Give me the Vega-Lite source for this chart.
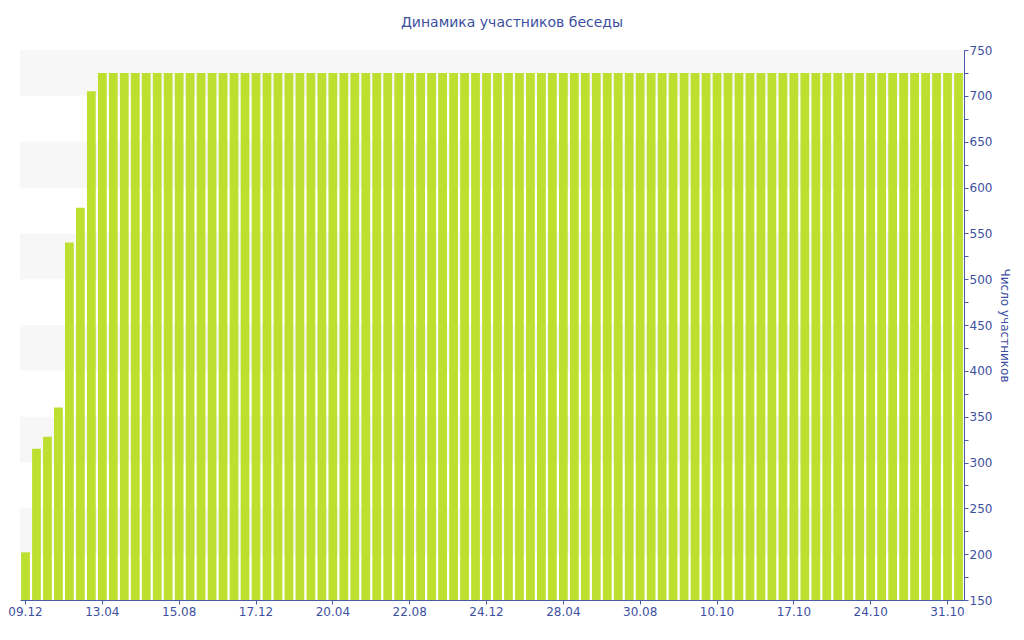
{
  "$schema": "https://vega.github.io/schema/vega-lite/v6.json",
  "width": 944,
  "height": 550,
  "autosize": "none",
  "padding": {"left": 20, "top": 50, "right": 60, "bottom": 40},
  "background": "white",
  "config": {"view": {"stroke": null}, "font": "DejaVu Sans"},
  "title": {"text": "Динамика участников беседы", "anchor": "middle", "dx": 20, "offset": 14, "fontSize": 14, "fontWeight": "normal", "color": "#3d4fa0", "font": "DejaVu Sans"},
  "datasets": {
    "bands": [
      {"lo": 700, "hi": 750}, {"lo": 600, "hi": 650}, {"lo": 500, "hi": 550},
      {"lo": 400, "hi": 450}, {"lo": 300, "hi": 350}, {"lo": 200, "hi": 250}
    ],
    "bars": [
      {"i":0,"v":202},{"i":1,"v":315},{"i":2,"v":328},{"i":3,"v":360},{"i":4,"v":540},{"i":5,"v":578},{"i":6,"v":705},
      {"i":7,"v":725},{"i":8,"v":725},{"i":9,"v":725},{"i":10,"v":725},{"i":11,"v":725},{"i":12,"v":725},{"i":13,"v":725},
      {"i":14,"v":725},{"i":15,"v":725},{"i":16,"v":725},{"i":17,"v":725},{"i":18,"v":725},{"i":19,"v":725},{"i":20,"v":725},
      {"i":21,"v":725},{"i":22,"v":725},{"i":23,"v":725},{"i":24,"v":725},{"i":25,"v":725},{"i":26,"v":725},{"i":27,"v":725},
      {"i":28,"v":725},{"i":29,"v":725},{"i":30,"v":725},{"i":31,"v":725},{"i":32,"v":725},{"i":33,"v":725},{"i":34,"v":725},
      {"i":35,"v":725},{"i":36,"v":725},{"i":37,"v":725},{"i":38,"v":725},{"i":39,"v":725},{"i":40,"v":725},{"i":41,"v":725},
      {"i":42,"v":725},{"i":43,"v":725},{"i":44,"v":725},{"i":45,"v":725},{"i":46,"v":725},{"i":47,"v":725},{"i":48,"v":725},
      {"i":49,"v":725},{"i":50,"v":725},{"i":51,"v":725},{"i":52,"v":725},{"i":53,"v":725},{"i":54,"v":725},{"i":55,"v":725},
      {"i":56,"v":725},{"i":57,"v":725},{"i":58,"v":725},{"i":59,"v":725},{"i":60,"v":725},{"i":61,"v":725},{"i":62,"v":725},
      {"i":63,"v":725},{"i":64,"v":725},{"i":65,"v":725},{"i":66,"v":725},{"i":67,"v":725},{"i":68,"v":725},{"i":69,"v":725},
      {"i":70,"v":725},{"i":71,"v":725},{"i":72,"v":725},{"i":73,"v":725},{"i":74,"v":725},{"i":75,"v":725},{"i":76,"v":725},
      {"i":77,"v":725},{"i":78,"v":725},{"i":79,"v":725},{"i":80,"v":725},{"i":81,"v":725},{"i":82,"v":725},{"i":83,"v":725},
      {"i":84,"v":725},{"i":85,"v":725}
    ]
  },
  "layer": [
    {
      "data": {"name": "bands"},
      "mark": {"type": "rect", "color": "#f7f7f7"},
      "encoding": {
        "y": {
          "field": "lo", "type": "quantitative",
          "scale": {"domain": [150, 750], "zero": false, "nice": false},
          "axis": {
            "orient": "right",
            "title": "Число участников",
            "titleColor": "#3d4fa0",
            "titleFontSize": 12,
            "titleFontWeight": "normal",
            "titleFont": "DejaVu Sans",
            "titlePadding": 6,
            "values": [150,175,200,225,250,275,300,325,350,375,400,425,450,475,500,525,550,575,600,625,650,675,700,725,750],
            "labelExpr": "datum.value % 50 === 0 ? datum.label : ''",
            "labelOverlap": false,
            "labelColor": "#3d4fa0",
            "labelFontSize": 12,
            "labelFont": "DejaVu Sans",
            "labelPadding": 1,
            "domainColor": "#4a5aa8",
            "tickColor": "#4a5aa8",
            "tickSize": 4,
            "grid": false,
            "encode": {"ticks": {"update": {"x2": {"signal": "datum.value % 50 === 0 ? 5 : 2"}}}}
          }
        },
        "y2": {"field": "hi"}
      }
    },
    {
      "data": {"name": "bars"},
      "mark": {"type": "bar", "color": "#bde030"},
      "encoding": {
        "x": {
          "field": "i", "type": "ordinal",
          "scale": {"paddingInner": 0.2, "paddingOuter": 0.1},
          "axis": {
            "title": null,
            "values": [0,7,14,21,28,35,42,49,56,63,70,77,84],
            "labelExpr": "['09.12','13.04','15.08','17.12','20.04','22.08','24.12','28.04','30.08','10.10','17.10','24.10','31.10'][datum.value/7]",
            "labelAngle": 0,
            "labelColor": "#3d4fa0",
            "labelFontSize": 12,
            "labelFont": "DejaVu Sans",
            "domainColor": "#4a5aa8",
            "tickColor": "#4a5aa8",
            "tickSize": 4,
            "labelPadding": 2,
            "grid": false
          }
        },
        "y": {
          "field": "v", "type": "quantitative",
          "scale": {"domain": [150, 750], "zero": false, "nice": false},
          "axis": {
            "orient": "right",
            "title": "Число участников",
            "titleColor": "#3d4fa0",
            "titleFontSize": 12,
            "titleFontWeight": "normal",
            "titleFont": "DejaVu Sans",
            "titlePadding": 6,
            "values": [150,175,200,225,250,275,300,325,350,375,400,425,450,475,500,525,550,575,600,625,650,675,700,725,750],
            "labelExpr": "datum.value % 50 === 0 ? datum.label : ''",
            "labelOverlap": false,
            "labelColor": "#3d4fa0",
            "labelFontSize": 12,
            "labelFont": "DejaVu Sans",
            "labelPadding": 1,
            "domainColor": "#4a5aa8",
            "tickColor": "#4a5aa8",
            "tickSize": 4,
            "grid": false,
            "encode": {"ticks": {"update": {"x2": {"signal": "datum.value % 50 === 0 ? 5 : 2"}}}}
          }
        },
        "y2": {"datum": 150}
      }
    }
  ]
}
